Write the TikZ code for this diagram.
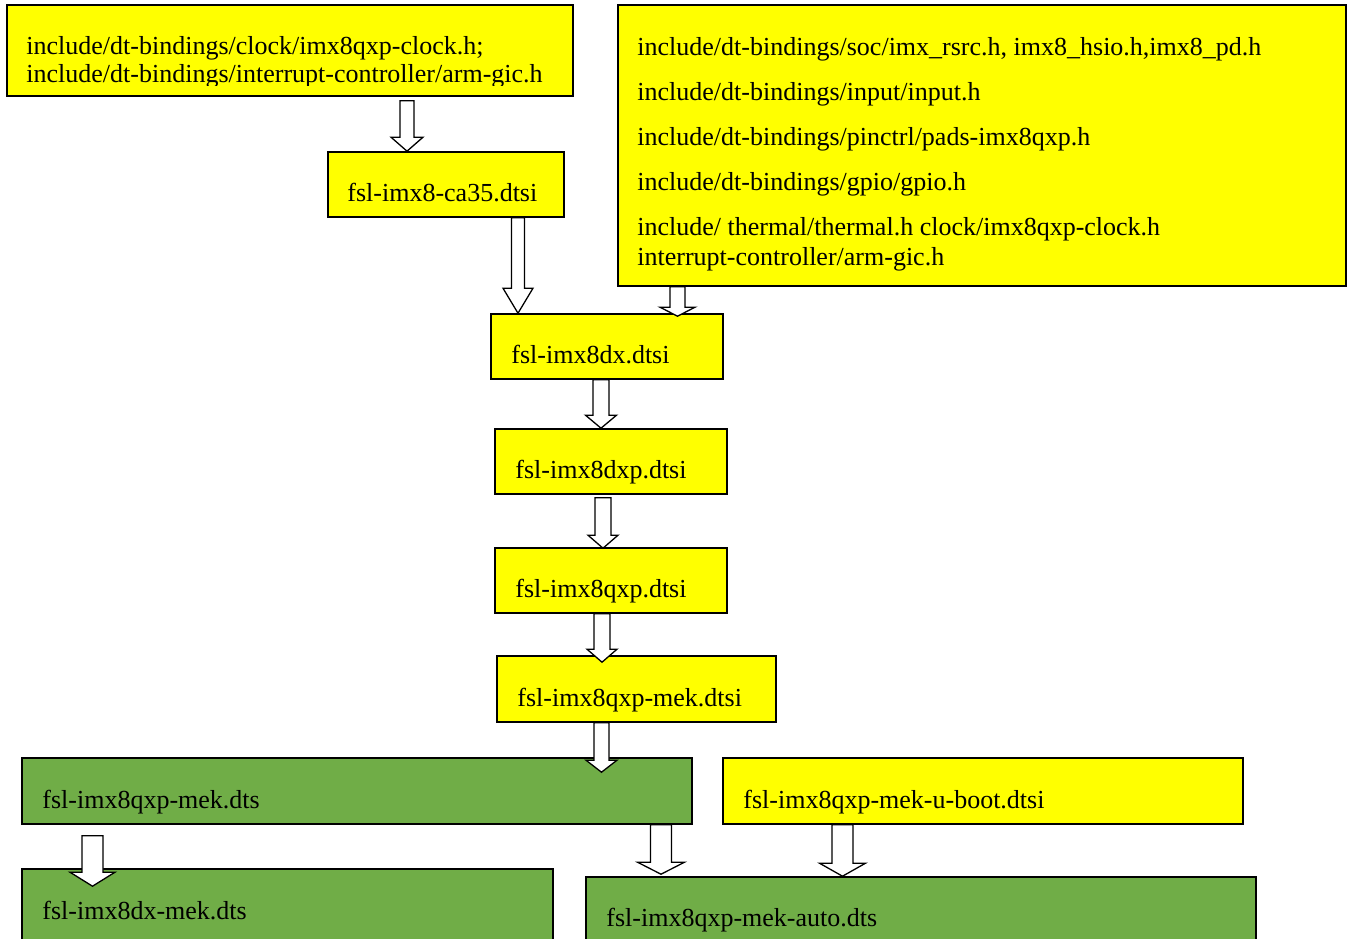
\documentclass[tikz,border=0pt]{standalone}
\usepackage{fontspec}
\setmainfont{Liberation Serif}
\usetikzlibrary{calc}
\definecolor{hdryellow}{HTML}{FFFF00}
\definecolor{dtsgreen}{HTML}{70AD47}
\tikzset{
	yfile/.style={draw=black,line width=1.6pt,fill=hdryellow,rectangle,inner sep=0pt},
	gfile/.style={yfile,fill=dtsgreen},
	fname/.style={anchor=base west,inner sep=0pt,align=left,font=\fontsize{26}{30}\selectfont},
	fat/.style n args={3}{draw=black,line width=1.3pt,fill=white,line join=miter,
		to path={let \p1=(\tikztostart), \p2=(\tikztotarget) in
			(\x1-#1pt,\y1) -- (\x1-#1pt,\y2+#3pt) -- (\x1-#2pt,\y2+#3pt) -- (\x1,\y2)
			-- (\x1+#2pt,\y2+#3pt) -- (\x1+#1pt,\y2+#3pt) -- (\x1+#1pt,\y1) -- cycle}}
}
\begin{document}
\begin{tikzpicture}[x=1pt,y=-1pt]
				\useasboundingbox (0,0) rectangle (1354,939);
				\clip (0,0) rectangle (1354,939);
				\node[yfile,minimum width=566pt,minimum height=91pt] (hdr1) at (290,50.5) {};
				\node[yfile,minimum width=236pt,minimum height=65pt] (ca35) at (446,184.5) {};
				\node[yfile,minimum width=728pt,minimum height=281pt] (hdr2) at (982,145.5) {};
				\node[yfile,minimum width=232pt,minimum height=65pt] (dx) at (607,346.5) {};
				\node[yfile,minimum width=232pt,minimum height=65pt] (dxp) at (611,461.5) {};
				\node[yfile,minimum width=232pt,minimum height=65pt] (qxp) at (611,580.5) {};
				\node[yfile,minimum width=279pt,minimum height=66pt] (mekdtsi) at (636.5,689) {};
				\node[gfile,minimum width=670pt,minimum height=66pt] (mekdts) at (357,791) {};
				\node[yfile,minimum width=520pt,minimum height=66pt] (uboot) at (983,791) {};
				\node[gfile,minimum width=531pt,minimum height=91pt] (dxmek) at (287.5,914.5) {};
				\node[gfile,minimum width=670pt,minimum height=83pt] (auto) at (921,918.5) {};
				\begin{scope}
					\clip (7,5) rectangle (573,86);
					\node[fname,font=\fontsize{26}{28}\selectfont] (hdr1-txt) at ([xshift=20pt,yshift=-78pt]hdr1.north west) {include/dt-bindings/clock/imx8qxp-clock.h;\\include/dt-bindings/interrupt-controller/arm-gic.h};
				\end{scope}
				\node[fname] (hdr2-txt) at ([xshift=20pt,yshift=-261pt]hdr2.north west) {include/dt-bindings/soc/imx\_rsrc.h, imx8\_hsio.h,imx8\_pd.h\\[15pt]include/dt-bindings/input/input.h\\[15pt]include/dt-bindings/pinctrl/pads-imx8qxp.h\\[15pt]include/dt-bindings/gpio/gpio.h\\[15pt]include/ thermal/thermal.h clock/imx8qxp-clock.h\\interrupt-controller/arm-gic.h};
				\node[fname] (ca35-txt) at ([xshift=20pt,yshift=16pt]ca35.south west) {fsl-imx8-ca35.dtsi};
				\node[fname] (dx-txt) at ([xshift=21pt,yshift=16pt]dx.south west) {fsl-imx8dx.dtsi};
				\node[fname] (dxp-txt) at ([xshift=21pt,yshift=16pt]dxp.south west) {fsl-imx8dxp.dtsi};
				\node[fname] (qxp-txt) at ([xshift=21pt,yshift=16pt]qxp.south west) {fsl-imx8qxp.dtsi};
				\node[fname] (mekdtsi-txt) at ([xshift=21pt,yshift=16pt]mekdtsi.south west) {fsl-imx8qxp-mek.dtsi};
				\node[fname] (mekdts-txt) at ([xshift=21pt,yshift=16pt]mekdts.south west) {fsl-imx8qxp-mek.dts};
				\node[fname] (uboot-txt) at ([xshift=21pt,yshift=16pt]uboot.south west) {fsl-imx8qxp-mek-u-boot.dtsi};
				\node[fname] (dxmek-txt) at ([xshift=21pt,yshift=-51pt]dxmek.north west) {fsl-imx8dx-mek.dts};
				\node[fname] (auto-txt) at ([xshift=21pt,yshift=-50pt]auto.north west) {fsl-imx8qxp-mek-auto.dts};
				\draw[fat={7}{16}{14}] ([xshift=117pt,yshift=-4pt]hdr1.south) to (ca35.north);
				\draw[fat={6.5}{15}{25}] ([xshift=72pt]ca35.south) to (dx.north);
				\draw[fat={7.5}{17.5}{9}] ([xshift=-304.5pt]hdr2.south) to ([yshift=-3pt]dx.north);
				\draw[fat={8}{15.5}{13}] ([xshift=-6pt]dx.south) to (dxp.north);
				\draw[fat={8}{15}{13}] ([xshift=-8pt,yshift=-3pt]dxp.south) to ([yshift=-1pt]qxp.north);
				\draw[fat={8}{15}{13}] ([xshift=-9pt]qxp.south) to ([yshift=-7pt]mekdtsi.north);
				\draw[fat={7.5}{15.5}{12}] ([xshift=-35pt]mekdtsi.south) to ([yshift=-15pt]mekdts.north);
				\draw[fat={10.5}{22.5}{14}] ([xshift=-264.5pt,yshift=-11pt]mekdts.south) to ([yshift=-18pt]dxmek.north);
				\draw[fat={10.5}{23.5}{12}] ([xshift=304pt]mekdts.south) to ([yshift=2pt]auto.north);
				\draw[fat={10.5}{23}{13}] ([xshift=-140.5pt]uboot.south) to (auto.north);
\end{tikzpicture}
\end{document}
